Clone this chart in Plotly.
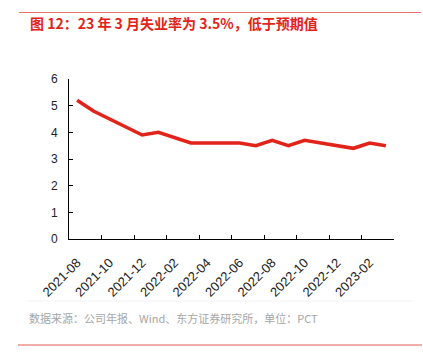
import plotly.graph_objects as go

months = ["2021-08", "2021-09", "2021-10", "2021-11", "2021-12", "2022-01", "2022-02",
          "2022-03", "2022-04", "2022-05", "2022-06", "2022-07", "2022-08", "2022-09",
          "2022-10", "2022-11", "2022-12", "2023-01", "2023-02", "2023-03"]
unemployment = [5.2, 4.8, 4.5, 4.2, 3.9, 4.0, 3.8, 3.6, 3.6, 3.6, 3.6, 3.5, 3.7, 3.5,
                3.7, 3.6, 3.5, 3.4, 3.6, 3.5]
y_ticks = [0, 1, 2, 3, 4, 5, 6]

title_text = "<b>图 12：23 年 3 月失业率为 3.5%，低于预期值</b>"
source_text = "数据来源：公司年报、Wind、东方证券研究所，单位：PCT"

W, H = 423, 363
L, R, T, B = 69, 29, 79, 124
pw, ph = W - L - R, H - T - B

def px(x):
    return (x - L) / pw

def py(y):
    return (H - B - y) / ph

idx = list(range(len(months)))
label_idx = idx[::2]
boundaries = [i - 0.5 for i in idx[::2]] + [len(months) - 0.5]

fig = go.Figure()
fig.add_trace(go.Scatter(x=idx, y=unemployment, mode="lines",
                         line=dict(color="#e2231a", width=3.6), showlegend=False,
                         hoverinfo="skip"))
fig.add_trace(go.Scatter(x=[boundaries[0], boundaries[-1]], y=[0, 0], xaxis="x2",
                         mode="lines", line=dict(width=0), showlegend=False,
                         hoverinfo="skip"))

font_main = "Liberation Sans, Arial, Noto Sans CJK SC, sans-serif"
fig.update_layout(
    width=W, height=H,
    margin=dict(l=L, r=R, t=T, b=B),
    plot_bgcolor="white", paper_bgcolor="white",
    font=dict(family=font_main, size=12, color="#222222"),
    xaxis=dict(range=[-0.5, len(months) - 0.5], tickmode="array",
               tickvals=label_idx, ticktext=[months[i] for i in label_idx],
               tickangle=-45, ticks="", showgrid=False, zeroline=False,
               showline=True, linecolor="#000000", linewidth=1,
               tickfont=dict(size=13, color="#222222"), ticklabelstandoff=10),
    xaxis2=dict(range=[-0.5, len(months) - 0.5], overlaying="x", tickmode="array",
                tickvals=boundaries, ticktext=[""] * len(boundaries), ticks="inside",
                ticklen=4, tickcolor="#000000", showgrid=False, zeroline=False,
                showline=False, side="bottom", anchor="y"),
    yaxis=dict(range=[0, 6], tickmode="array", tickvals=y_ticks,
               ticks="inside", ticklen=4, tickcolor="#000000",
               showgrid=False, zeroline=False, showline=True,
               linecolor="#000000", linewidth=1,
               tickfont=dict(size=12, color="#222222"), ticklabelstandoff=8),
)

fig.add_annotation(text=title_text, xref="paper", yref="paper", x=px(28), y=py(23),
                   xanchor="left", yanchor="middle", showarrow=False,
                   font=dict(family="Noto Sans CJK SC", size=14, color="#e2231a"))
fig.add_annotation(text=source_text, xref="paper", yref="paper", x=px(27), y=py(318),
                   xanchor="left", yanchor="middle", showarrow=False,
                   font=dict(family="Noto Sans CJK SC", size=11, color="#a6a6a6"))

fig.add_shape(type="line", xref="paper", yref="paper", x0=px(19), x1=px(421),
              y0=py(12.5), y1=py(12.5), line=dict(color="#e8716c", width=1))
fig.add_shape(type="line", xref="paper", yref="paper", x0=px(27), x1=px(413),
              y0=py(301), y1=py(301), line=dict(color="#f3f3f3", width=1))
fig.add_shape(type="line", xref="paper", yref="paper", x0=px(18), x1=px(422),
              y0=py(345), y1=py(345), line=dict(color="#e05a52", width=1))

fig.write_html("out.html", config={"displayModeBar": False},
               post_script="document.body.style.margin='0';")
